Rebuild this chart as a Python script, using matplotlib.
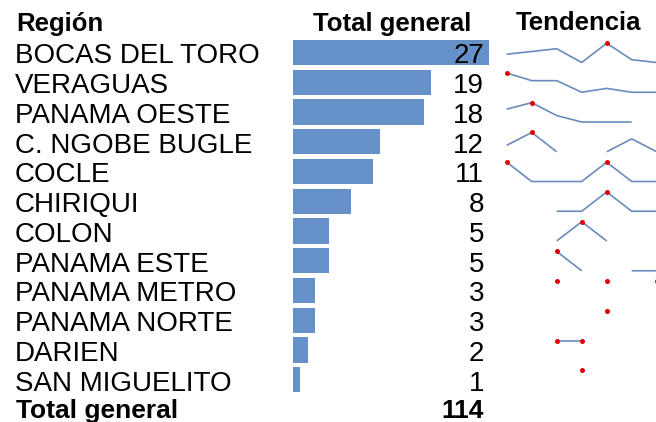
import numpy as np
import matplotlib
matplotlib.use("Agg")
import matplotlib.pyplot as plt

nan = np.nan

# --- data ---
regiones = ["BOCAS DEL TORO", "VERAGUAS", "PANAMA OESTE", "C. NGOBE BUGLE",
            "COCLE", "CHIRIQUI", "COLON", "PANAMA ESTE", "PANAMA METRO",
            "PANAMA NORTE", "DARIEN", "SAN MIGUELITO"]
totales = [27, 19, 18, 12, 11, 8, 5, 5, 3, 3, 2, 1]
total_general = 114

# tendencia por periodo (nan = sin dato)
tendencia = [
    [4, 5, 6, 1, 8, 2, 1],
    [6, 4, 4, 1, 2, 1, 1],
    [5, 7, 3, 1, 1, 1, nan],
    [2, 4, 1, nan, 1, 3, 1],
    [3, 1, 1, 1, 3, 1, 1],
    [nan, nan, 1, 1, 4, 1, 1],
    [nan, nan, 1, 3, 1, nan, nan],
    [nan, nan, 2, 1, nan, 1, 1],
    [nan, nan, 1, nan, 1, nan, 1],
    [nan, nan, nan, nan, 3, nan, nan],
    [nan, nan, 1, 1, nan, nan, nan],
    [nan, nan, nan, 1, nan, nan, nan],
]

headers = ["Región", "Total general", "Tendencia"]

# --- layout (pixels) ---
W, H = 656, 422
ROW0 = 52.5      # centro de la primera fila
PITCH = 29.75    # alto de fila
BAR_X0, BAR_X1 = 293, 489
SPK_X0, SPK_X1 = 506.7, 656.7
BAR_COLOR = "#6690c8"
LINE_COLOR = "#6a8bbb"
DOT_COLOR = "#e00000"

plt.rcParams["font.family"] = ["Liberation Sans", "DejaVu Sans"]

fig = plt.figure(figsize=(W / 100, H / 100), dpi=100)
fig.patch.set_facecolor("white")

n = len(regiones)
y_top = -ROW0 / PITCH
y_bot = (H - ROW0) / PITCH

# texto: x en pixeles, y en filas
ax = fig.add_axes([0, 0, 1, 1])
ax.set_xlim(0, W)
ax.set_ylim(y_bot, y_top)
ax.axis("off")

# barras
axb = fig.add_axes([BAR_X0 / W, 0, (BAR_X1 - BAR_X0) / W, 1])
axb.barh(range(n), totales, height=0.857, color=BAR_COLOR, zorder=1)
axb.set_xlim(0, max(totales))
axb.set_ylim(y_bot, y_top)
axb.axis("off")
axb.patch.set_alpha(0)

base = 0.363  # desplazamiento de la linea base respecto al centro de fila
for i, (reg, tot) in enumerate(zip(regiones, totales)):
    ax.text(15, i + base, reg, fontsize=20, va="baseline", ha="left")
    fig.text(484 / W, 1 - (ROW0 + PITCH * (i + base)) / H, str(tot),
             fontsize=20, va="baseline", ha="right", zorder=5)

# encabezados
hy = 1 - 30.5 / H
fig.text(16 / W, hy, headers[0], fontsize=18.5, fontweight="bold", va="baseline", ha="left")
fig.text(392.5 / W, hy, headers[1], fontsize=18.5, fontweight="bold", va="baseline", ha="center")
fig.text(578 / W, hy, headers[2], fontsize=18.5, fontweight="bold", va="baseline", ha="center")

# fila total
tot_y = 1 - (ROW0 + PITCH * n + 8.5) / H
fig.text(16 / W, tot_y, "Total general", fontsize=19, fontweight="bold", va="baseline", ha="left")
fig.text(484 / W, tot_y, str(total_general),
         fontsize=19, fontweight="bold", va="baseline", ha="right")

# minigraficos de tendencia
for i, serie in enumerate(tendencia):
    vals = np.array(serie, dtype=float)
    cy = ROW0 + PITCH * i
    top_px, bot_px = cy - 9.3, cy + 10.0
    axs = fig.add_axes([SPK_X0 / W, 1 - bot_px / H, (SPK_X1 - SPK_X0) / W, (bot_px - top_px) / H])
    axs.axis("off")
    axs.patch.set_alpha(0)
    x = np.arange(len(vals))
    vmin, vmax = np.nanmin(vals), np.nanmax(vals)
    axs.plot(x, vals, color=LINE_COLOR, lw=1.2, clip_on=False, solid_capstyle="butt")
    hi = vals == vmax
    axs.plot(x[hi], vals[hi], "o", color=DOT_COLOR, ms=3.6, mec="none", clip_on=False)
    axs.set_xlim(0, len(vals) - 1)
    if vmin == vmax:
        axs.set_ylim(vmin - 1, vmax)
    else:
        axs.set_ylim(vmin, vmax)

fig.savefig("out.png", dpi=100, facecolor="white")
